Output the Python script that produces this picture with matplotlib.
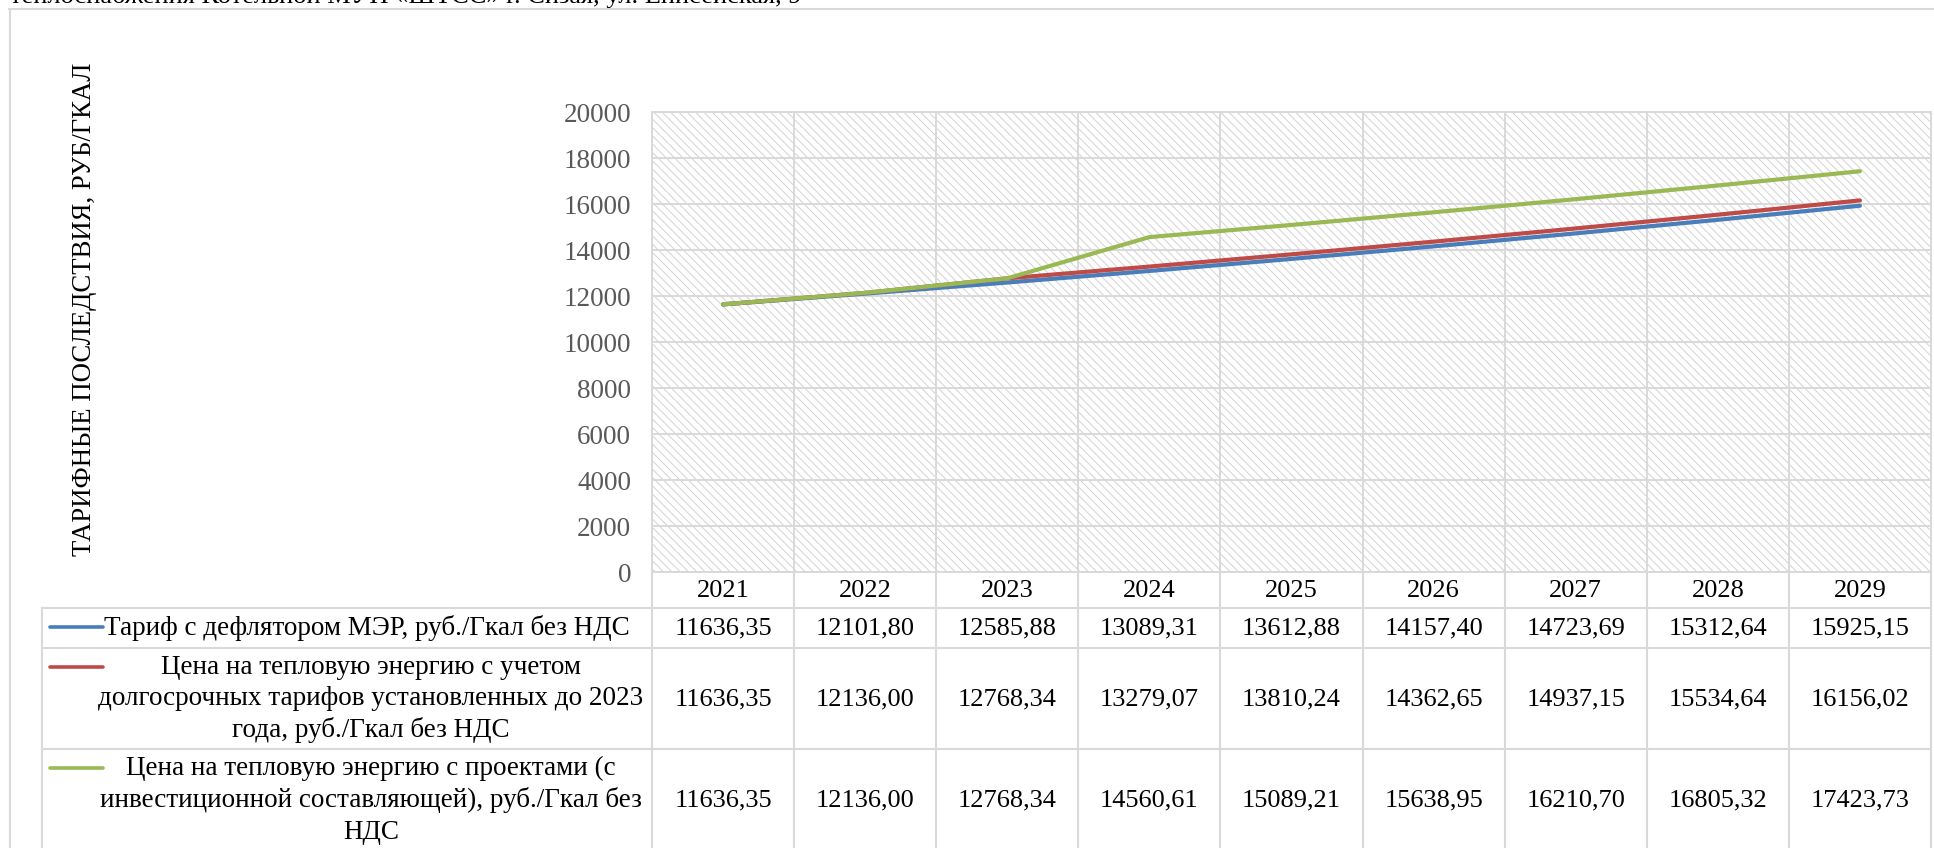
import numpy as np
import matplotlib
matplotlib.use("Agg")
import matplotlib.pyplot as plt
from matplotlib import transforms

plt.rcParams['font.family'] = ['Liberation Serif', 'DejaVu Serif']
plt.rcParams['hatch.linewidth'] = 0.7

years = ["2021", "2022", "2023", "2024", "2025", "2026", "2027", "2028", "2029"]
tariff_mer = [11636.35, 12101.80, 12585.88, 13089.31, 13612.88, 14157.40, 14723.69, 15312.64, 15925.15]
price_long = [11636.35, 12136.00, 12768.34, 13279.07, 13810.24, 14362.65, 14937.15, 15534.64, 16156.02]
price_proj = [11636.35, 12136.00, 12768.34, 14560.61, 15089.21, 15638.95, 16210.70, 16805.32, 17423.73]
series_names = [
    "Тариф с дефлятором МЭР, руб./Гкал без НДС",
    "Цена на тепловую энергию с учетом\nдолгосрочных тарифов установленных до 2023\nгода, руб./Гкал без НДС",
    "Цена на тепловую энергию с проектами (с\nинвестиционной составляющей), руб./Гкал без\nНДС",
]
series_values = [tariff_mer, price_long, price_proj]
colors = ["#4A7EBB", "#BE4B48", "#98B954"]
yticks = list(range(0, 20001, 2000))
y_label = "ТАРИФНЫЕ ПОСЛЕДСТВИЯ, РУБ/ГКАЛ"
top_text = "теплоснабжения Котельной МУП «ШТСС» г. Сизая, ул. Енисейская, 9"

W, H = 1934, 848
fig = plt.figure(figsize=(W / 100, H / 100), dpi=100)
fig.patch.set_facecolor("white")

# overlay in pixel coordinates
ov = fig.add_axes([0, 0, 1, 1])
ov.set_xlim(0, W)
ov.set_ylim(H, 0)
ov.axis("off")
ov.patch.set_visible(False)

px_l, px_r, px_t, px_b = 652, 1931, 112, 572
ax = fig.add_axes([px_l / W, 1 - px_b / H, (px_r - px_l) / W, (px_b - px_t) / H])
ax.set_zorder(2)

grid_c = "#d9d9d9"
ax.add_patch(plt.Rectangle((0, 0), 1, 1, transform=ax.transAxes, facecolor="white",
                           edgecolor="#d2d2d2", hatch="\\\\\\\\", linewidth=0, zorder=0))
x = np.arange(len(years))
for vals, c in zip(series_values, colors):
    ax.plot(x, vals, color=c, lw=3.0, solid_capstyle="round", zorder=3)

ax.set_xlim(-0.5, len(years) - 0.5)
ax.set_ylim(0, 20000)
ax.set_yticks(yticks)
ax.set_yticklabels([str(v) for v in yticks], fontsize=19.5, color="#595959")
ax.tick_params(axis="y", length=0, pad=15)
ax.set_xticks([])
ax.set_xticks(np.arange(-0.5, len(years), 1), minor=True)
ax.tick_params(axis="x", which="both", length=0, labelbottom=False)
ax.grid(True, axis="y", which="major", color=grid_c, lw=1.4, zorder=1)
ax.grid(True, axis="x", which="minor", color=grid_c, lw=1.4, zorder=1)
ax.set_axisbelow(True)
for s in ax.spines.values():
    s.set_color(grid_c)
    s.set_linewidth(1.4)

# outer frame
ov.plot([10, 10], [9, H], color="#d9d9d9", lw=1.5)
ov.plot([9, W], [9, 9], color="#d9d9d9", lw=1.5)

# top (cropped) caption
ov.text(10, 3, top_text, fontsize=19, ha="left", va="baseline", color="black")

# y label
ov.text(85, 309, y_label, fontsize=19.3, rotation=90, ha="center", va="center", color="black")

# table
tb = transforms.blended_transform_factory(ax.transData, ov.transData)
row_lines = [608, 648, 749]
for yl in row_lines:
    ov.plot([42, px_r], [yl, yl], color=grid_c, lw=1.5)
ov.plot([42, 42], [608, H], color=grid_c, lw=1.5)
for b in np.arange(-0.5, len(years), 1):
    ov.plot([b, b], [px_b, H], color=grid_c, lw=1.5, transform=tb)

year_y = 591
for i, yr in enumerate(years):
    ov.text(i, year_y, yr, fontsize=19, ha="center", va="center", color="black", transform=tb)

row_centers = [628, 699, 800]
label_x = [367, 371, 371]
key_y = [627, 667, 768]
for r, (name, vals, c) in enumerate(zip(series_names, series_values, colors)):
    ov.plot([50, 103], [key_y[r], key_y[r]], color=c, lw=2.6, solid_capstyle="round")
    ov.text(label_x[r], row_centers[r], name, fontsize=19.5, ha="center", va="center",
            multialignment="center", linespacing=1.33, color="black")
    for i, v in enumerate(vals):
        s = f"{v:.2f}".replace(".", ",")
        ov.text(i, row_centers[r], s, fontsize=19, ha="center", va="center", color="black", transform=tb)

fig.savefig("out.png", dpi=100)
